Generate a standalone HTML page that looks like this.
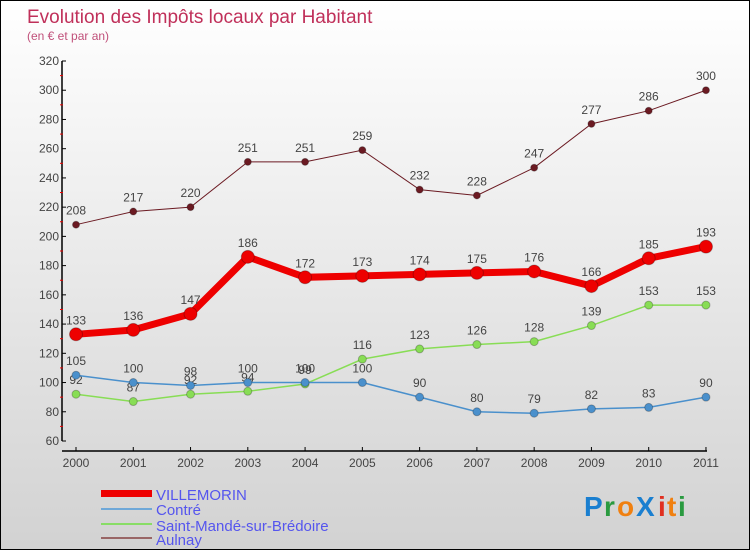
<!DOCTYPE html>
<html><head><meta charset="utf-8"><style>
body{margin:0}
#c{width:748px;height:548px;border:1px solid #000;background:linear-gradient(#ffffff,#d2d2d2);position:relative;overflow:hidden;font-family:"Liberation Sans",sans-serif}
</style></head><body>
<div id="c">
<svg id="s" width="748" height="548" style="position:absolute;left:0;top:0">
<text x="26" y="22" font-size="19" fill="#c0305a">Evolution des Impôts locaux par Habitant</text>
<text x="26" y="39" font-size="12" fill="#c0507a">(en € et par an)</text>
<g id="axes"></g><g id="series"></g>
<g id="legend" font-size="15" fill="#5555ee">
<rect x="100" y="489" width="51" height="7" fill="#e00"/>
<text x="155" y="499">VILLEMORIN</text>
<rect x="100" y="507" width="51" height="2" fill="#6fa8d8"/>
<text x="155" y="514">Contré</text>
<rect x="100" y="522" width="51" height="2" fill="#88dd66"/>
<text x="155" y="530">Saint-Mandé-sur-Brédoire</text>
<rect x="100" y="536" width="51" height="2" fill="#996666"/>
<text x="155" y="544">Aulnay</text>
</g>
<g font-size="28" font-weight="bold">
<text x="583" y="515" fill="#1a7fd0">P</text><text x="603" y="515" fill="#2a9a40">r</text><text x="616" y="515" fill="#f08010">o</text><text x="635" y="515" fill="#1a7fd0">X</text><text x="657" y="515" fill="#e03020">i</text><text x="666" y="515" fill="#f08010">t</text><text x="677" y="515" fill="#2a9a40">i</text>
</g>
</svg>
</div>
<script>
const years=[2000,2001,2002,2003,2004,2005,2006,2007,2008,2009,2010,2011];
const villemorin=[133,136,147,186,172,173,174,175,176,166,185,193];
const contre=[105,100,98,100,100,100,90,80,79,82,83,90];
const saintMande=[92,87,92,94,99,116,123,126,128,139,153,153];
const aulnay=[208,217,220,251,251,259,232,228,247,277,286,300];
const yTicks=[60,80,100,120,140,160,180,200,220,240,260,280,300,320];
const NS="http://www.w3.org/2000/svg";
const xS=i=>75+i*57.27;
const yS=v=>440-(v-60)*380/260;
function mk(t,a,p){const e=document.createElementNS(NS,t);for(const k in a)e.setAttribute(k,a[k]);p.appendChild(e);return e;}
const ax=document.getElementById('axes'),se=document.getElementById('series');
let l=mk('line',{x1:61,y1:yS(320),x2:61,y2:yS(60),stroke:'#000','stroke-width':1.5},ax);


l=mk('line',{x1:61,y1:450,x2:706,y2:450,stroke:'#000','stroke-width':1.5},ax);


yTicks.forEach((v,i)=>{
 mk('line',{x1:61,x2:65,y1:yS(v),y2:yS(v),stroke:'#000'},ax);
 if(i<yTicks.length-1)mk('line',{x1:59,x2:62,y1:yS(v+10),y2:yS(v+10),stroke:'#e00'},ax);
 const t=mk('text',{x:58,y:yS(v)+4,'text-anchor':'end','font-size':12,fill:'#444'},ax);
 t.textContent=v;
 
 
});
years.forEach((y,i)=>{
 mk('line',{x1:xS(i),x2:xS(i),y1:446,y2:450,stroke:'#000'},ax);
 const t=mk('text',{x:xS(i),y:466,'text-anchor':'middle','font-size':12,fill:'#444'},ax);
 t.textContent=y;
 
 
});
function draw(vals,col,w,r,name){
 const g=mk('g',{},se);
 
 
 const pl=mk('polyline',{points:vals.map((v,i)=>xS(i)+','+yS(v)).join(' '),fill:'none',stroke:col,'stroke-width':w},g);
 vals.forEach((v,i)=>{
  const c=mk('circle',{cx:xS(i),cy:yS(v),r:r,fill:col,stroke:'rgba(0,0,0,0.25)'},g);
  
  
  const t=mk('text',{x:xS(i),y:yS(v)-10,'text-anchor':'middle','font-size':12,fill:'#444'},g);
  t.textContent=v;
  
  
 });
}
draw(aulnay,'#6b1a22',1,3.5,'aulnay');
draw(saintMande,'#88dd55',1.5,4,'saint-mande');
draw(contre,'#4a90cc',1.5,4,'contre');
draw(villemorin,'#ee0000',7,6.5,'villemorin');
</script>
</body></html>
